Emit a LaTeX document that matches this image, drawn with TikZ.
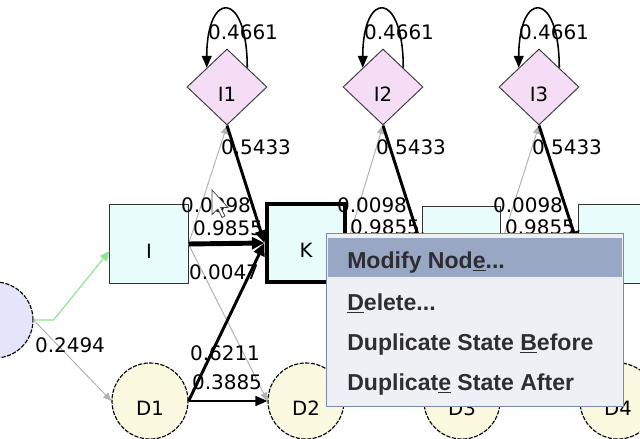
\documentclass[tikz,border=0pt]{standalone}
\usepackage{fontspec}
\setsansfont{DejaVu Sans}
\newfontfamily\menufont{Liberation Sans}
\usepackage{xcolor}
\usepackage{tikz}
\usetikzlibrary{shapes, arrows.meta, positioning, calc}

\definecolor{matchfill}{RGB}{232,252,252}
\definecolor{insertfill}{RGB}{245,222,245}
\definecolor{deletefill}{RGB}{251,249,224}
\definecolor{beginfill}{RGB}{228,228,250}
\definecolor{greyedge}{RGB}{178,178,178}
\definecolor{greenedge}{RGB}{140,228,140}
\definecolor{menubg}{RGB}{238,240,245}
\definecolor{menuhi}{RGB}{152,167,196}
\definecolor{menuline}{RGB}{122,138,170}
\definecolor{menutext}{RGB}{45,45,50}

\newcommand{\mnem}[1]{\underline{#1}}

\tikzset{
  hmmstate/.style={inner sep=0pt, text height=20pt, text depth=0pt},
  matchbox/.style={hmmstate, rectangle, draw=black!80, line width=0.7pt, fill=matchfill, minimum size=1.95cm},
  insertbox/.style={hmmstate, diamond, draw=black!75, line width=0.7pt, fill=insertfill, minimum width=2cm, minimum height=1.9cm},
  deletecircle/.style={hmmstate, circle, draw=black, line width=0.8pt, dash pattern=on 3pt off 1pt, fill=deletefill, minimum size=1.9cm},
  prob/.style={inner sep=0pt, font=\sffamily\fontsize{14.2}{16}\selectfont},
  faint/.style={draw=greyedge, line width=0.7pt, -{Triangle[length=6pt,width=5pt]}},
  medium/.style={draw=black, line width=1.4pt, -{Triangle[length=8.5pt,width=7pt]}},
  heavy/.style={draw=black, line width=2.1pt, -{Triangle[length=9pt,width=8pt]}},
  heaviest/.style={draw=black, line width=3.5pt, -{Triangle[length=9pt,width=8.5pt]}},
  selfloop/.style={draw=black, line width=1.1pt, -{Triangle[length=8.5pt,width=7pt]}},
  menuitem/.style={anchor=west, inner sep=0pt, text height=11.7pt, text depth=0pt, text=menutext,
    font=\menufont\bfseries\fontsize{16.4}{18}\selectfont}
}

\begin{document}
\begin{tikzpicture}[x=0.025cm, y=-0.025cm, font=\sffamily\fontsize{14}{16}\selectfont]
\clip (0,0) rectangle (640,439);

% match states
\node[matchbox] (I) at (149,244) {I};
\node[matchbox, draw=black, line width=3.5pt] (K) at (306,243) {K};
\node[matchbox] (M3) at (461,246) {};
\node[matchbox] (M4) at (617,244) {};

% insert states
\node[insertbox] (I1) at (227,87) {I1};
\node[insertbox] (I2) at (383,87) {I2};
\node[insertbox] (I3) at (539,87) {I3};

% delete states and the begin state
\node[deletecircle, fill=beginfill] (B) at (-5,320) {};
\node[deletecircle] (D1) at (150,401) {D1};
\node[deletecircle] (D2) at (306,401) {D2};
\node[deletecircle] (D3) at (462,401) {D3};
\node[deletecircle] (D4) at (618,401) {D4};

% self transitions of the insert states
\draw[selfloop] (I1.north east) .. controls +(0,-78) and +(0,-78) .. (I1.north west);
\draw[selfloop] (I2.north east) .. controls +(0,-78) and +(0,-78) .. (I2.north west);
\draw[selfloop] (I3.north east) .. controls +(0,-78) and +(0,-78) .. (I3.north west);
\node[prob] (p-i1) at (243,32) {0.4661};
\node[prob] (p-i2) at (399,32) {0.4661};
\node[prob] (p-i3) at (554,32) {0.4661};

% from the begin state
\draw[draw=greenedge, line width=0.8pt, -{Triangle[length=7pt,width=6pt]}]
  (B.east) -- ++(20,0) -- ([yshift=-5pt]I.west);
\draw[faint] (B.east) -- (D1.west);
\node[prob] (p-bd) at (70,345) {0.2494};

% column 1
\draw[faint] (I.east) -- (I1.south);
\draw[faint] (I.east) -- (D2.west);
\draw[heavy] (I1.south) -- (K.west);
\draw[heaviest] (I.east) -- (K.west);
\draw[heavy] (D1.east) -- (K.west);
\draw[medium] (D1.east) -- (D2.west);
\node[prob] (p-ii1) at (216,205) {0.0098};
\node[prob] (p-ik) at (228,228) {0.9855};
\node[prob] (p-id) at (224,272) {0.0047};
\node[prob] (p-i1k) at (256,147) {0.5433};
\node[prob] (p-dk) at (225,353) {0.6211};
\node[prob] (p-dd) at (227,382) {0.3885};

% column 2
\draw[faint] (K.east) -- (I2.south);
\draw[heavy] (I2.south) -- (M3.west);
\draw[heaviest] (K.east) -- (M3.west);
\node[prob] (p-ki2) at (372,205) {0.0098};
\node[prob] (p-km) at (385,227) {0.9855};
\node[prob] (p-i2m) at (411,147) {0.5433};

% column 3
\draw[faint] (M3.east) -- (I3.south);
\draw[heavy] (I3.south) -- (M4.west);
\draw[heaviest] (M3.east) -- (M4.west);
\node[prob] (p-mi3) at (528,205) {0.0098};
\node[prob] (p-mm) at (540,227) {0.9855};
\node[prob] (p-i3m) at (567,147) {0.5433};

% mouse pointer
\draw[fill=white, draw=black!75, line width=0.5pt, shift={(212,190)}]
  (0,0) -- (0,24.5) -- (5.8,19) -- (10,27.5) -- (13,26) -- (8.7,17.5) -- (16,17.5) -- cycle;

% context menu
\node[draw=menuline, fill=menubg, line width=0.7pt, minimum width=7.4cm, minimum height=4.3cm] (menu) at (475,320) {};
\fill[menuhi] ([shift={(2,5)}]menu.north west) rectangle ([shift={(-2,44)}]menu.north east);
\node[menuitem] (modify) at (347,260) {Modify Nod\mnem{e}...};
\node[menuitem] (delete) at (347,302) {\mnem{D}elete...};
\node[menuitem] (before) at (347,342) {Duplicate State \mnem{B}efore};
\node[menuitem] (after) at (347,382) {Duplicat\mnem{e} State After};
\end{tikzpicture}
\end{document}
